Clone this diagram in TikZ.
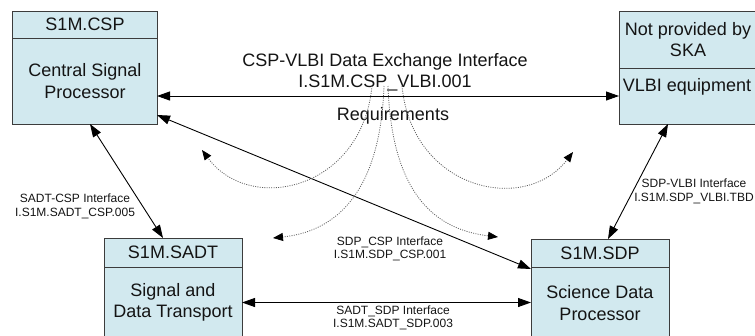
\documentclass[tikz,border=0pt]{standalone}
\usepackage{fontspec}
\setmainfont{Liberation Sans}
\usetikzlibrary{arrows.meta,calc}
\definecolor{boxfill}{RGB}{210,233,239}
\definecolor{boxline}{RGB}{60,60,60}
\definecolor{dotcol}{RGB}{95,95,95}
\definecolor{txt}{RGB}{20,20,20}
\begin{document}
\begin{tikzpicture}[x=1bp,y=-1bp,
  boxpart/.style={draw=boxline, fill=boxfill, line width=1bp, inner sep=0pt, outer sep=0pt, text=txt},
  big/.style={font=\fontsize{18bp}{21.5bp}\selectfont, align=center, inner sep=0pt, text=txt},
  small/.style={font=\fontsize{12bp}{13.5bp}\selectfont, align=center, inner sep=0pt, text=txt},
  link/.style={line width=0.9bp, draw=black,
     {Triangle[length=13bp,width=9bp]}-{Triangle[length=13bp,width=9bp]}},
  reqline/.style={draw=dotcol, line width=0.8bp, dash pattern=on 1bp off 1.3bp,
     -{Triangle[length=10bp,width=8bp,color=black]}}
]
\useasboundingbox (0,0) rectangle (755,335);

% CSP box
\node[boxpart, big, minimum width=144bp, minimum height=27bp] (csph) at (85,24.5) {S1M.CSP};
\node[boxpart, big, minimum width=144bp, minimum height=86bp] (cspb) at (85,81) {Central Signal\\Processor};

% VLBI box
\node[boxpart, big, minimum width=138bp, minimum height=57bp] (vlbih) at (688,39.5) {Not provided by\\SKA};
\node[boxpart, minimum width=138bp, minimum height=56bp] (vlbib) at (688,96) {};
\node[big] (vlbit) at (687,87) {VLBI equipment};

% SADT box
\node[boxpart, big, minimum width=138bp, minimum height=29bp] (sadth) at (173,252.5) {S1M.SADT};
\node[boxpart, big, minimum width=138bp, minimum height=71bp] (sadtb) at (173,302.5) {Signal and\\Data Transport};

% SDP box
\node[boxpart, big, minimum width=138bp, minimum height=28bp] (sdph) at (600,253) {S1M.SDP};
\node[boxpart, big, minimum width=138bp, minimum height=72bp] (sdpb) at (600,303) {Science Data\\Processor};

% connectors
\draw[link] (cspb.east |- vlbib.west) -- (vlbib.west);
\draw[link] ([yshift=-34bp]cspb.east) -- ([yshift=-2bp]sdpb.north west);
\draw[link] ([xshift=5bp]cspb.south) -- ([xshift=-10bp]sadth.north);
\draw[link] ([xshift=-20bp]vlbib.south) -- ([xshift=8bp]sdph.north);
\draw[link] (sadtb.east) -- (sadtb.east -| sdpb.west);

% labels
\node[big] (lcv) at (385,72.5) {CSP-VLBI Data Exchange Interface\\I.S1M.CSP\_VLBI.001};
\node[big] (lreq) at (393,116) {Requirements};
\node[small] (lsc) at (75,206.5) {SADT-CSP Interface\\I.S1M.SADT\_CSP.005};
\node[small] (lsv) at (694,191.5) {SDP-VLBI Interface\\I.S1M.SDP\_VLBI.TBD};
\node[small] (lsdc) at (390,249) {SDP\_CSP Interface\\I.S1M.SDP\_CSP.001};
\node[small] (lss) at (393,318) {SADT\_SDP Interface\\I.S1M.SADT\_SDP.003};

% requirement curves
\coordinate (r1) at (372,86);
\coordinate (r2) at (384,86);
\coordinate (r3) at (388,86);
\coordinate (r4) at (402,86);
\coordinate (e1) at (202,150);
\coordinate (e2) at (273,238);
\coordinate (e3) at (498,237);
\coordinate (e4) at (573,152);
\draw[reqline] (r1) .. controls (362,190) and (250,215) .. (e1);
\draw[reqline] (r2) .. controls (380,200) and (330,232) .. (e2);
\draw[reqline] (r3) .. controls (392,200) and (440,230) .. (e3);
\draw[reqline] (r4) .. controls (412,190) and (525,215) .. (e4);
\end{tikzpicture}
\end{document}
